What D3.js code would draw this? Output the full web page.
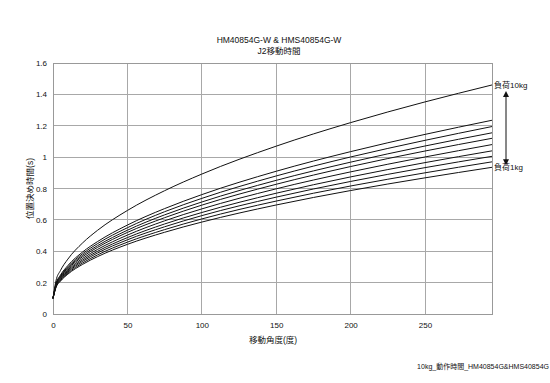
<!DOCTYPE html>
<html><head><meta charset="utf-8">
<script src="https://cdn.jsdelivr.net/npm/d3@7"></script>
<style>
body{margin:0;background:#fff;}
text{font-family:"Liberation Sans","Noto Sans CJK JP",sans-serif;fill:#111;}
</style></head>
<body><svg id="c" width="550" height="383"></svg>
<script>
const angles = [0, 2, 5, 10, 20, 30, 50, 75, 100, 150, 200, 250, 295];
const load1kg  = [0.1, 0.169, 0.209, 0.254, 0.317, 0.366, 0.444, 0.521, 0.586, 0.695, 0.787, 0.868, 0.935];
const load2kg  = [0.1, 0.172, 0.213, 0.260, 0.326, 0.377, 0.458, 0.538, 0.606, 0.720, 0.816, 0.900, 0.970];
const load3kg  = [0.1, 0.175, 0.218, 0.267, 0.336, 0.389, 0.473, 0.556, 0.627, 0.745, 0.845, 0.933, 1.005];
const load4kg  = [0.1, 0.177, 0.222, 0.273, 0.345, 0.400, 0.487, 0.574, 0.647, 0.770, 0.874, 0.965, 1.040];
const load5kg  = [0.1, 0.181, 0.228, 0.280, 0.355, 0.412, 0.503, 0.594, 0.670, 0.798, 0.906, 1.001, 1.080];
const load6kg  = [0.1, 0.184, 0.233, 0.288, 0.366, 0.425, 0.520, 0.614, 0.694, 0.827, 0.940, 1.039, 1.120];
const load7kg  = [0.1, 0.187, 0.237, 0.294, 0.375, 0.436, 0.534, 0.632, 0.714, 0.852, 0.968, 1.071, 1.155];
const load8kg  = [0.1, 0.190, 0.242, 0.301, 0.385, 0.449, 0.550, 0.652, 0.737, 0.880, 1.001, 1.107, 1.195];
const load9kg  = [0.1, 0.193, 0.248, 0.309, 0.396, 0.462, 0.567, 0.672, 0.761, 0.910, 1.035, 1.145, 1.235];
const load10kg = [0.1, 0.212, 0.277, 0.350, 0.454, 0.534, 0.660, 0.786, 0.892, 1.070, 1.220, 1.352, 1.460];
const series = [load1kg, load2kg, load3kg, load4kg, load5kg, load6kg, load7kg, load8kg, load9kg, load10kg];
const xTicks = [0, 50, 100, 150, 200, 250];
const yTicks = [0, 0.2, 0.4, 0.6, 0.8, 1, 1.2, 1.4, 1.6];
const titleLines = ["HM40854G-W & HMS40854G-W", "J2移動時間"];
const xTitle = "移動角度(度)";
const yTitle = "位置決め時間(s)";
const labelTop = "負荷10kg", labelBottom = "負荷1kg";
const footer = "10kg_動作時間_HM40854G&HMS40854G";

const svg = d3.select("#c");
const L = 53, R = 492, T = 63, B = 314;
const x = d3.scaleLinear().domain([0, 295]).range([L, R]);
const y = d3.scaleLinear().domain([0, 1.6]).range([B, T]);

const g = svg.append("g");
// gridlines
g.selectAll(".vg").data(xTicks.slice(1)).join("line")
  .attr("x1", d => x(d)).attr("x2", d => x(d)).attr("y1", T).attr("y2", B)
  .attr("stroke", "#a8a8a8").attr("stroke-width", 1).attr("shape-rendering","crispEdges");
g.selectAll(".hg").data(yTicks.slice(1)).join("line")
  .attr("x1", L).attr("x2", R).attr("y1", d => y(d)).attr("y2", d => y(d))
  .attr("stroke", "#a8a8a8").attr("stroke-width", 1).attr("shape-rendering","crispEdges");
g.append("rect").attr("x", L).attr("y", T).attr("width", R - L).attr("height", B - T)
  .attr("fill", "none").attr("stroke", "#999").attr("shape-rendering","crispEdges");

// axes labels
const xa = d3.axisBottom(x).tickValues(xTicks).tickSize(0).tickPadding(8);
const ya = d3.axisLeft(y).tickValues(yTicks).tickSize(0).tickPadding(6).tickFormat(d3.format("~g"));
const gx = svg.append("g").attr("transform", `translate(0,${B})`).call(xa);
const gy = svg.append("g").attr("transform", `translate(${L},0)`).call(ya);
[gx, gy].forEach(a => { a.select(".domain").remove(); a.selectAll("text").attr("font-size", 8).style("fill", "#111")
  .attr("font-family", "Liberation Sans, Noto Sans CJK JP, sans-serif"); });

// curves
const line = d3.line().x((d, i) => x(angles[i])).y(d => y(d)).curve(d3.curveMonotoneX);
svg.append("g").selectAll("path").data(series).join("path")
  .attr("d", line).attr("fill", "none").attr("stroke", "#111").attr("stroke-width", 1);

// titles
svg.append("g").selectAll("text").data(titleLines).join("text")
  .attr("x", 279).attr("y", (d, i) => 43 + i * 11).attr("text-anchor", "middle").attr("font-size", 8.5).text(d => d);
svg.append("text").attr("x", 273).attr("y", 343).attr("text-anchor", "middle").attr("font-size", 8.5).text(xTitle);
svg.append("text").attr("transform", `translate(33,${(T + B) / 2}) rotate(-90)`).attr("text-anchor", "middle")
  .attr("font-size", 8.5).text(yTitle);

// load labels and arrow
svg.append("text").attr("x", 494).attr("y", y(load10kg[load10kg.length - 1]) + 3).attr("font-size", 8).text(labelTop);
svg.append("text").attr("x", 494).attr("y", y(load1kg[load1kg.length - 1]) + 3).attr("font-size", 8).text(labelBottom);
const defs = svg.append("defs");
defs.append("marker").attr("id", "ah").attr("viewBox", "0 0 10 10").attr("refX", 5).attr("refY", 5)
  .attr("markerWidth", 6).attr("markerHeight", 7).attr("orient", "auto-start-reverse")
  .append("path").attr("d", "M0,0 L10,5 L0,10 z").attr("fill", "#111");
svg.append("line").attr("x1", 506).attr("x2", 506)
  .attr("y1", y(load10kg[load10kg.length - 1]) + 9).attr("y2", y(load1kg[load1kg.length - 1]) - 5)
  .attr("stroke", "#111").attr("stroke-width", 1)
  .attr("marker-start", "url(#ah)").attr("marker-end", "url(#ah)");

svg.append("text").attr("x", 549).attr("y", 369).attr("text-anchor", "end").attr("font-size", 7).text(footer);
</script></body></html>
